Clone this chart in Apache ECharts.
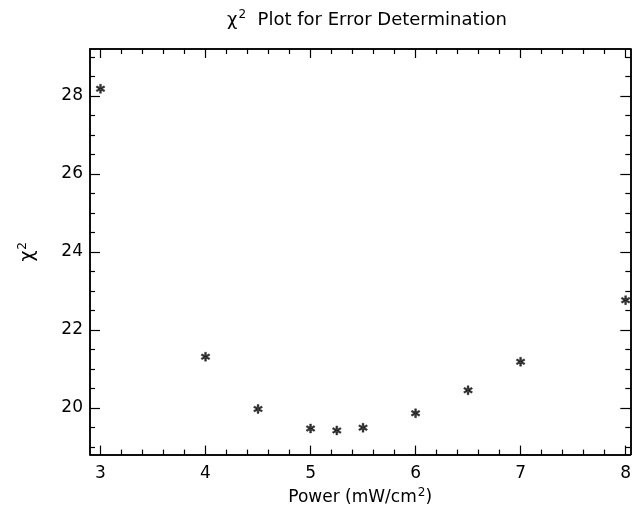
<!DOCTYPE html>
<html>
<head>
<meta charset="utf-8">
<script src="https://cdn.jsdelivr.net/npm/echarts@6/dist/echarts.min.js"></script>
<style>
html,body{margin:0;padding:0;background:#fff;}
#chart{width:634px;height:511px;}
</style>
</head>
<body>
<div id="chart"></div>
<script>
var power = [3, 4, 4.5, 5, 5.25, 5.5, 6, 6.5, 7, 8];
var chi2 = [28.18, 21.31, 19.97, 19.47, 19.42, 19.49, 19.86, 20.45, 21.18, 22.76];
var xMajor = [3, 4, 5, 6, 7, 8];
var yMajor = [20, 22, 24, 26, 28];

// minor ticks
var xMinor = [];
for (var i = 15; i <= 40; i++) { if (i % 5 !== 0) xMinor.push(i / 5); }
var yMinor = [];
for (var j = 38; j <= 58; j++) { if (j % 4 !== 0) yMinor.push(j / 2); }

var font = 'DejaVu Sans';
var star = 'path://M-1,-5L1,-5L1,5L-1,5Z' +
    'M4.83,-1.63L3.83,-3.37L-4.83,1.63L-3.83,3.37Z' +
    'M3.83,3.37L4.83,1.63L-3.83,-3.37L-4.83,-1.63Z';

function xAx(pos, vals, len, labels) {
    return {
        type: 'value', position: pos, min: 2.9, max: 8.045,
        axisLine: {show: true, onZero: false, lineStyle: {color: '#000', width: 1.5}},
        axisTick: {show: true, inside: true, length: len, customValues: vals,
            lineStyle: {color: '#000', width: 1.2}},
        axisLabel: labels ? {show: true, customValues: xMajor, margin: 10,
            color: '#000', fontSize: 17, fontFamily: font} : {show: false},
        splitLine: {show: false}
    };
}
function yAx(pos, vals, len, labels) {
    return {
        type: 'value', position: pos, min: 18.8, max: 29.2,
        axisLine: {show: true, onZero: false, lineStyle: {color: '#000', width: 1.5}},
        axisTick: {show: true, inside: true, length: len, customValues: vals,
            lineStyle: {color: '#000', width: 1.2}},
        axisLabel: labels ? {show: true, customValues: yMajor, margin: 7,
            color: '#000', fontSize: 17, fontFamily: font} : {show: false},
        splitLine: {show: false}
    };
}

var sup = {fontSize: 12, fontWeight: 'normal', fontFamily: font, color: '#000', padding: [0, 0, 10, 1]};
function txt(size) {
    return {color: '#000', fontSize: size, fontWeight: 'normal', fontFamily: font};
}

var myChart = echarts.init(document.getElementById('chart'));
var xs = [xAx('bottom', xMajor, 9, true), xAx('bottom', xMinor, 5, false),
          xAx('top', xMajor, 9, false), xAx('top', xMinor, 5, false)];
xs[0].name = '{t|Power (mW/cm}{s|2}{t|)}';
xs[0].nameLocation = 'middle';
xs[0].nameGap = 30;
xs[0].nameTextStyle = {rich: {t: txt(17), s: sup}};
var ys = [yAx('left', yMajor, 10, true), yAx('left', yMinor, 5, false),
          yAx('right', yMajor, 10, false), yAx('right', yMinor, 5, false)];
ys[0].name = '{t|χ}{s|2}';
ys[0].nameLocation = 'middle';
ys[0].nameRotate = 90;
ys[0].nameGap = 51;
ys[0].nameTextStyle = {rich: {t: txt(19), s: sup}};

var option = {
    backgroundColor: '#fff',
    animation: false,
    title: {
        text: '{t|χ}{s|2}{t|  Plot for Error Determination}',
        left: 362, top: 4, textAlign: 'center',
        textStyle: {fontWeight: 'normal', rich: {t: txt(18), s: sup}}
    },
    grid: {left: 90, right: 1, top: 49, bottom: 56, containLabel: false},
    xAxis: xs,
    yAxis: ys,
    series: [{
        type: 'scatter',
        xAxisIndex: 0, yAxisIndex: 0,
        symbol: star,
        symbolSize: 9,
        itemStyle: {color: '#000', borderColor: '#000', borderWidth: 0.4},
        data: power.map(function (p, k) { return [p, chi2[k]]; })
    }]
};
myChart.setOption(option);
</script>
</body>
</html>
